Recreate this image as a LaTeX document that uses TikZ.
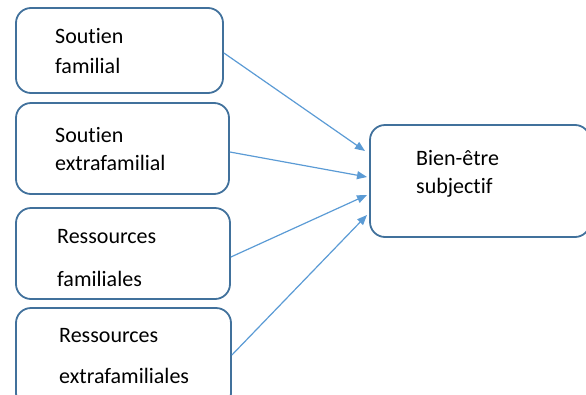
\documentclass[tikz,border=0pt]{standalone}
\usepackage{fontspec}
\setmainfont[RawFeature={-liga;-clig}]{Carlito}
\usetikzlibrary{arrows.meta}
\definecolor{boxblue}{RGB}{65,113,156}
\definecolor{arrowblue}{RGB}{91,155,213}
\begin{document}
\begin{tikzpicture}[x=1pt,y=-1pt,
  box/.style={draw=boxblue,line width=1.8pt,rounded corners=15pt,fill=white,inner sep=0pt},
  lbl/.style={anchor=base west,inner sep=0pt,font=\fontsize{22}{26}\selectfont,text=black},
  conn/.style={draw=arrowblue,line width=1.2pt,-{Triangle[length=10pt,width=8pt]}}]
\useasboundingbox (0,0) rectangle (586,394);
% boxes
\node[box,minimum width=207pt,minimum height=85pt] (b1) at (119.5,50.5) {};
\node[box,minimum width=213pt,minimum height=91pt] (b2) at (122.5,148.5) {};
\node[box,minimum width=214pt,minimum height=91pt] (b3) at (123,253.5) {};
\node[box,minimum width=215pt,minimum height=100pt] (b4) at (123.5,358) {};
\node[box,minimum width=220pt,minimum height=112pt] (b5) at (480,181) {};
% texts
\node[lbl] (t1a) at (55,43) {Soutien};
\node[lbl] (t1b) at (55,73) {familial};
\node[lbl] (t2a) at (55,142) {Soutien};
\node[lbl] (t2b) at (55,170) {extrafamilial};
\node[lbl] (t3a) at (57,243) {Ressources};
\node[lbl] (t3b) at (57,286) {familiales};
\node[lbl] (t4a) at (59,342) {Ressources};
\node[lbl] (t4b) at (59,383) {extrafamiliales};
\node[lbl] (t5a) at (416,165) {Bien-être};
\node[lbl] (t5b) at (416,193) {subjectif};
% connector ends
\coordinate (e1) at (365,151);
\coordinate (e2) at (367,177);
\coordinate (e3) at (367,195);
\coordinate (e4) at (367,215);
\draw[conn] (b1.east |- 0,53) -- (e1);
\draw[conn] (b2.east |- 0,152) -- (e2);
\draw[conn] (b3.east |- 0,257) -- (e3);
\draw[conn] (b4.east |- 0,355) -- (e4);
\end{tikzpicture}
\end{document}
